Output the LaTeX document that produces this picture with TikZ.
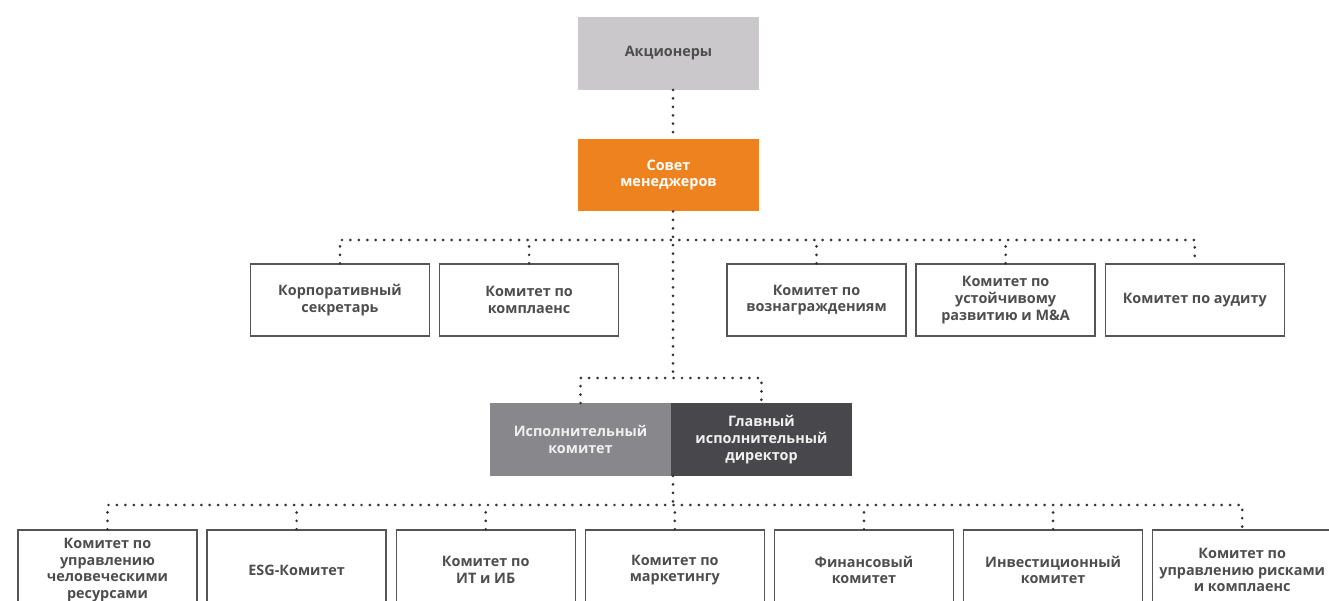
\documentclass[tikz,border=0pt]{standalone}
\usepackage{fontspec}
\setmainfont{Open Sans}
\usetikzlibrary{positioning}

\definecolor{shgray}{HTML}{CAC8CB}
\definecolor{boardorange}{HTML}{EE821E}
\definecolor{execgray}{HTML}{88878B}
\definecolor{ceogray}{HTML}{48484C}
\definecolor{txtgray}{HTML}{4D4D4D}
\definecolor{boxline}{HTML}{555555}
\definecolor{dotgray}{HTML}{333333}

\begin{document}
\begin{tikzpicture}[x=0.02cm,y=-0.02cm,node distance=0.175cm,
    box/.style={draw=boxline,line width=0.8pt,minimum width=3.58cm,minimum height=1.44cm,
      inner sep=1pt,align=center,text=txtgray,font=\fontsize{8.2}{9.5}\selectfont\bfseries},
    fill box/.style={minimum width=3.62cm,minimum height=1.46cm,inner sep=1pt,outer sep=0pt,
      align=center,font=\fontsize{8.2}{9.5}\selectfont\bfseries},
    dots/.style={draw=dotgray,line width=1.7pt,line cap=round,dash pattern=on 0pt off 4.8pt}]
    \useasboundingbox (0,0) rectangle (1329,601);
    \clip (0,0) rectangle (1329,601);

    % top
    \node[fill box,fill=shgray,text=txtgray] (sh) at (668.5,53.5) {Акционеры};
    \node[fill box,fill=boardorange,text=white] (board) at (668.5,175) {Совет\\менеджеров};

    % committees of the board
    \node[box] (sec) at (340,300) {Корпоративный\\секретарь};
    \node[box] (comp) [right=of sec] {Комитет по\\комплаенс};
    \node[box] (rem) at (816.5,300) {Комитет по\\вознаграждениям};
    \node[box] (sust) [right=of rem] {Комитет по\\устойчивому\\развитию и M\&A};
    \node[box] (aud) [right=of sust] {Комитет по аудиту};

    % executive level
    \node[fill box,fill=execgray,text=white!94!black] (exc) at (580.5,439.5) {Исполнительный\\комитет};
    \node[fill box,fill=ceogray,text=white!94!black] (ceo) [right=0cm of exc] {Главный\\исполнительный\\директор};

    % committees of management
    \node[box,minimum height=1.6cm] (hr) at (107.5,570) {Комитет по\\управлению\\человеческими\\ресурсами};
    \node[box,minimum height=1.6cm] (esg) [right=of hr] {ESG-Комитет};
    \node[box,minimum height=1.6cm] (it) [right=of esg] {Комитет по\\ИТ и ИБ};
    \node[box,minimum height=1.6cm] (mkt) [right=of it] {Комитет по\\маркетингу};
    \node[box,minimum height=1.6cm] (fin) [right=of mkt] {Финансовый\\комитет};
    \node[box,minimum height=1.6cm] (inv) [right=of fin] {Инвестиционный\\комитет};
    \node[box,minimum height=1.6cm] (risk) [right=of inv] {Комитет по\\управлению рисками\\и комплаенс};

    \coordinate (t1) at (673,240);
    \coordinate (t2) at (673,378);
    \coordinate (t3) at (673,505);

    \draw[dots] (sh.south -| t1) -- (board.north -| t1);
    \draw[dots] (board.south -| t1) -- (t2);
    \draw[dots] (sec.north) -- (sec.north |- t1) -- (aud.north |- t1) -- (aud.north);
    \draw[dots] (comp.north) -- (comp.north |- t1);
    \draw[dots] (rem.north) -- (rem.north |- t1);
    \draw[dots] (sust.north) -- (sust.north |- t1);
    \draw[dots] (exc.north) -- (exc.north |- t2) -- (ceo.north |- t2) -- (ceo.north);
    \draw[dots] (exc.south -| t3) -- (t3);
    \draw[dots] (hr.north) -- (hr.north |- t3) -- (risk.north |- t3) -- (risk.north);
    \draw[dots] (esg.north) -- (esg.north |- t3);
    \draw[dots] (it.north) -- (it.north |- t3);
    \draw[dots] (mkt.north) -- (mkt.north |- t3);
    \draw[dots] (fin.north) -- (fin.north |- t3);
    \draw[dots] (inv.north) -- (inv.north |- t3);
\end{tikzpicture}
\end{document}
